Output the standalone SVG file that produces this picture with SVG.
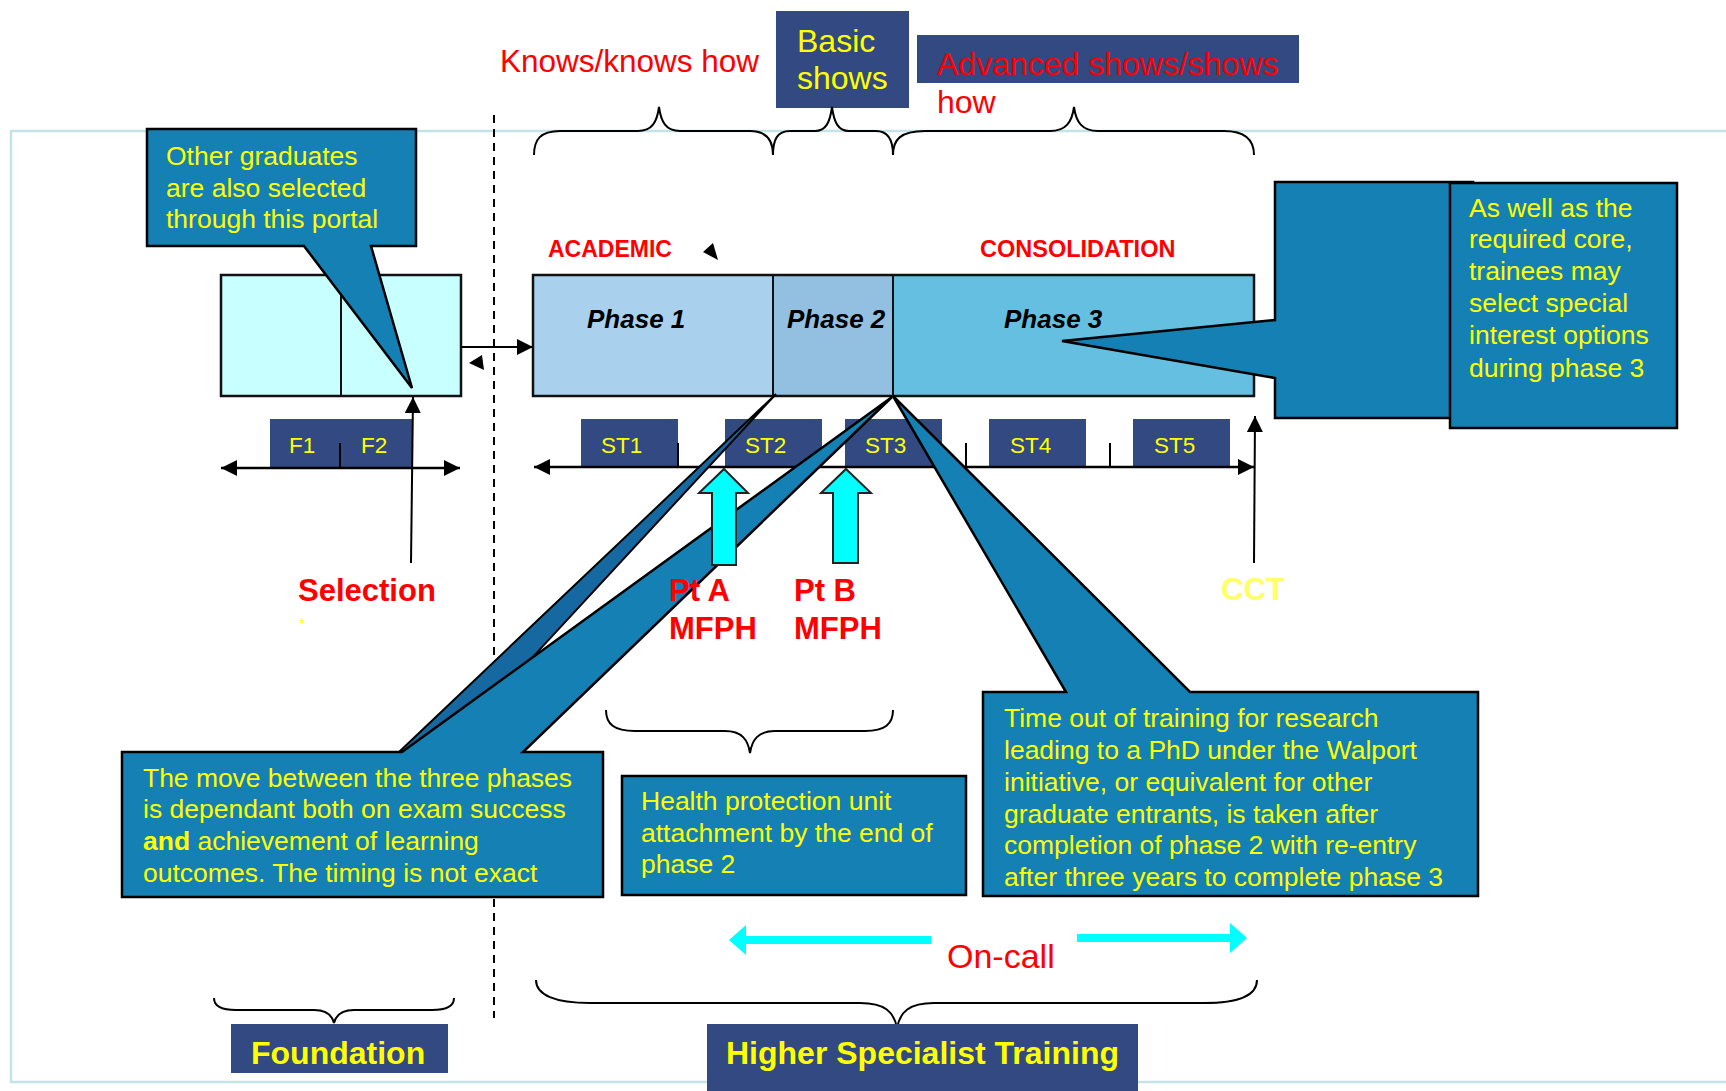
<svg xmlns="http://www.w3.org/2000/svg" width="1726" height="1091" viewBox="0 0 1726 1091">
<defs>
<style>
text{font-family:"Liberation Sans",Arial,sans-serif}
.brace{fill:none;stroke:#000;stroke-width:2}
.navy{fill:#324a81}
.call{fill:#1580b4;stroke:#000;stroke-width:2.5;stroke-linejoin:miter}
.yt{fill:#ffff00;font-size:26.5px}
.st{fill:#ffff00;font-size:22.5px}
.red{fill:#ff0000}
.big{font-size:32px}
.bold{font-weight:bold}
.ph{font-size:26px;font-weight:bold;font-style:italic;fill:#000}
.ax{stroke:#000;stroke-width:2.5;fill:none}
.cyan{fill:#00ffff;stroke:#222;stroke-width:2}
</style>
<marker id="ah" viewBox="0 0 10 10" refX="10" refY="5" markerWidth="16" markerHeight="16" markerUnits="userSpaceOnUse" orient="auto-start-reverse">
<path d="M0,0 L10,5 L0,10 z" fill="#000"/>
</marker>
</defs>
<rect width="1726" height="1091" fill="#fff"/>

<g id="frame">
<path d="M1726,131 L11,131 L11,1082 L1726,1082" fill="none" stroke="#c4e3e9" stroke-width="2.5"/>
</g>

<g id="top-labels">
<text x="500" y="72" class="red big" style="font-size:31.5px">Knows/knows how</text>
<g id="basic-shows">
<rect x="776" y="11" width="133" height="97" class="navy"/>
<text x="797" y="52" class="big" fill="#ffff00">Basic</text>
<text x="797" y="89" class="big" fill="#ffff00">shows</text>
</g>
<g id="advanced">
<rect x="917" y="35" width="382" height="48" class="navy"/>
<text x="937" y="75" class="red big">Advanced shows/shows</text>
<text x="937" y="113" class="red big">how</text>
</g>
</g>

<g id="braces">
<path class="brace" d="M534,155 C534,140 540,131 560,131 L638,131 C652,131 657,122 659,107 C661,122 666,131 680,131 L750,131 C766,131 773,140 773,155"/>
<path class="brace" d="M773,155 C773,140 777,131 790,131 L815,131 C826,131 830,122 832,107 C834,122 838,131 849,131 L876,131 C888,131 893,140 893,155"/>
<path class="brace" d="M893,155 C893,140 900,131 925,131 L1050,131 C1066,131 1072,122 1074,107 C1076,122 1082,131 1098,131 L1224,131 C1245,131 1254,140 1254,155"/>
<path class="brace" d="M606,710 C606,724 614,731 635,731 L725,731 C742,731 748,740 750,753 C752,740 758,731 775,731 L865,731 C885,731 893,724 893,710"/>
<path class="brace" d="M214,998 C214,1006 222,1010 236,1010 L314,1010 C326,1010 332,1015 334,1023 C336,1015 342,1010 354,1010 L432,1010 C446,1010 454,1006 454,998"/>
<path class="brace" d="M536,980 C536,995 555,1003 590,1003 L860,1003 C885,1003 894,1012 897,1028 C900,1012 909,1003 934,1003 L1204,1003 C1240,1003 1257,995 1257,980"/>
</g>

<line x1="494" y1="115" x2="494" y2="1018" stroke="#000" stroke-width="2" stroke-dasharray="8 6"/>

<g id="foundation-box">
<rect x="221" y="275" width="240" height="121" fill="#c8ffff" stroke="#111" stroke-width="2.5"/>
<line x1="341" y1="275" x2="341" y2="396" stroke="#111" stroke-width="2"/>
</g>

<g id="phase-bar">
<rect x="533" y="275" width="240" height="121" fill="#a9d0ec"/>
<rect x="773" y="275" width="120" height="121" fill="#93bfe1"/>
<rect x="893" y="275" width="361" height="121" fill="#64bfe0"/>
<rect x="533" y="275" width="721" height="121" fill="none" stroke="#111" stroke-width="2.5"/>
<line x1="773" y1="275" x2="773" y2="396" stroke="#111" stroke-width="2"/>
<line x1="893" y1="275" x2="893" y2="396" stroke="#111" stroke-width="2"/>
<text x="587" y="328" class="ph">Phase 1</text>
<text x="787" y="328" class="ph">Phase 2</text>
<text x="1004" y="328" class="ph">Phase 3</text>
</g>
<text x="548" y="257" class="red bold" style="font-size:23px">ACADEMIC</text>
<text x="980" y="257" class="red bold" style="font-size:23.5px">CONSOLIDATION</text>

<g id="timeline-f">
<rect x="270" y="419" width="143" height="48" class="navy"/>
<line x1="340" y1="443" x2="340" y2="468" stroke="#000" stroke-width="2"/>
<text x="289" y="453" class="st">F1</text>
<text x="361" y="453" class="st">F2</text>
</g>
<g id="timeline-st">
<rect x="581" y="419" width="97" height="48" class="navy"/>
<rect x="725" y="419" width="97" height="48" class="navy"/>
<rect x="845" y="419" width="97" height="48" class="navy"/>
<rect x="989" y="419" width="97" height="48" class="navy"/>
<rect x="1133" y="419" width="97" height="48" class="navy"/>
<line x1="678" y1="443" x2="678" y2="468" stroke="#000" stroke-width="2"/>
<line x1="966" y1="443" x2="966" y2="468" stroke="#000" stroke-width="2"/>
<line x1="1110" y1="443" x2="1110" y2="468" stroke="#000" stroke-width="2"/>
<text x="601" y="453" class="st">ST1</text>
<text x="745" y="453" class="st">ST2</text>
<text x="865" y="453" class="st">ST3</text>
<text x="1010" y="453" class="st">ST4</text>
<text x="1154" y="453" class="st">ST5</text>
</g>

<g id="connectors">
<line x1="221" y1="468" x2="460" y2="468" class="ax" marker-start="url(#ah)" marker-end="url(#ah)"/>
<line x1="534" y1="467" x2="1254" y2="467" class="ax" marker-start="url(#ah)" marker-end="url(#ah)"/>
<line x1="461" y1="347" x2="533" y2="347" stroke="#000" stroke-width="2" marker-end="url(#ah)"/>
<polygon points="469,363 482,355 484,370" fill="#000"/>
<polygon points="703,252 713,243 718,260" fill="#000"/>
<line x1="411" y1="563" x2="413" y2="397" stroke="#000" stroke-width="2" marker-end="url(#ah)"/>
<line x1="1254" y1="563" x2="1255" y2="416" stroke="#000" stroke-width="2" marker-end="url(#ah)"/>
</g>

<g id="callout-phases-dark">
<polygon points="776,394 399,752 445,752" fill="#1668a0" stroke="#000" stroke-width="2"/>
</g>
<g id="callout-phases">
<polygon class="call" points="122,752 402,752 892,397 523,752 603,752 603,897 122,897"/>
<text class="yt" x="143" y="787" textLength="429" lengthAdjust="spacing">The move between the three phases</text>
<text class="yt" x="143" y="818">is dependant both on exam success</text>
<text class="yt" x="143" y="850"><tspan font-weight="bold">and</tspan> achievement of learning</text>
<text class="yt" x="143" y="882">outcomes. The timing is not exact</text>
</g>

<g id="callout-timeout">
<polygon class="call" points="983,692 1066,692 893,396 1190,692 1478,692 1478,896 983,896"/>
<text class="yt" x="1004" y="727">Time out of training for research</text>
<text class="yt" x="1004" y="759">leading to a PhD under the Walport</text>
<text class="yt" x="1004" y="791">initiative, or equivalent for other</text>
<text class="yt" x="1004" y="823">graduate entrants, is taken after</text>
<text class="yt" x="1004" y="854">completion of phase 2 with re-entry</text>
<text class="yt" x="1004" y="886">after three years to complete phase 3</text>
</g>

<g id="health-box">
<rect x="622" y="776" width="344" height="119" class="call"/>
<text class="yt" x="641" y="810">Health protection unit</text>
<text class="yt" x="641" y="842">attachment by the end of</text>
<text class="yt" x="641" y="873">phase 2</text>
</g>

<g id="callout-graduates">
<polygon class="call" points="147,129 416,129 416,246 371,246 412,388 304,246 147,246"/>
<text class="yt" x="166" y="165">Other graduates</text>
<text class="yt" x="166" y="197">are also selected</text>
<text class="yt" x="166" y="228">through this portal</text>
</g>

<g id="callout-special">
<polygon class="call" points="1275,182 1473,182 1473,418 1275,418 1275,378 1062,341 1275,320"/>
<rect x="1450" y="183" width="227" height="245" class="call" stroke-width="3"/>
<text class="yt" x="1469" y="217">As well as the</text>
<text class="yt" x="1469" y="248">required core,</text>
<text class="yt" x="1469" y="280">trainees may</text>
<text class="yt" x="1469" y="312">select special</text>
<text class="yt" x="1469" y="344">interest options</text>
<text class="yt" x="1469" y="377">during phase 3</text>
</g>

<g id="pt-a">
<polygon class="cyan" points="724,469 748,493 736,493 736,565 712,565 712,493 699,493"/>
<text x="669" y="601" class="red bold" style="font-size:31px">Pt A</text>
<text x="669" y="639" class="red bold" style="font-size:31px">MFPH</text>
</g>
<g id="pt-b">
<polygon class="cyan" points="846,469 871,493 858,493 858,563 833,563 833,493 821,493"/>
<text x="794" y="601" class="red bold" style="font-size:31px">Pt B</text>
<text x="794" y="639" class="red bold" style="font-size:31px">MFPH</text>
</g>

<g id="selection">
<text x="298" y="601" class="red bold" style="font-size:31px">Selection</text>
<text x="299" y="628" fill="#ffff00" style="font-size:14px">*</text>
</g>
<g id="cct">
<text x="1221" y="600" class="bold" fill="#ffff66" style="font-size:31px">CCT</text>
</g>

<g id="on-call">
<polygon points="729,940 746,925 746,936 931,936 931,944 746,944 746,955" fill="#00ffff"/>
<polygon points="1247,938 1230,923 1230,934 1077,934 1077,942 1230,942 1230,953" fill="#00ffff"/>
<text x="947" y="968" class="red" style="font-size:34px">On-call</text>
</g>

<g id="foundation-label">
<rect x="231" y="1024" width="217" height="49" class="navy"/>
<text x="251" y="1064" class="bold" fill="#ffff00" style="font-size:32px">Foundation</text>
</g>
<g id="hst-label">
<rect x="707" y="1024" width="431" height="67" class="navy"/>
<text x="726" y="1064" class="bold" fill="#ffff00" style="font-size:32px">Higher Specialist Training</text>
</g>
</svg>
